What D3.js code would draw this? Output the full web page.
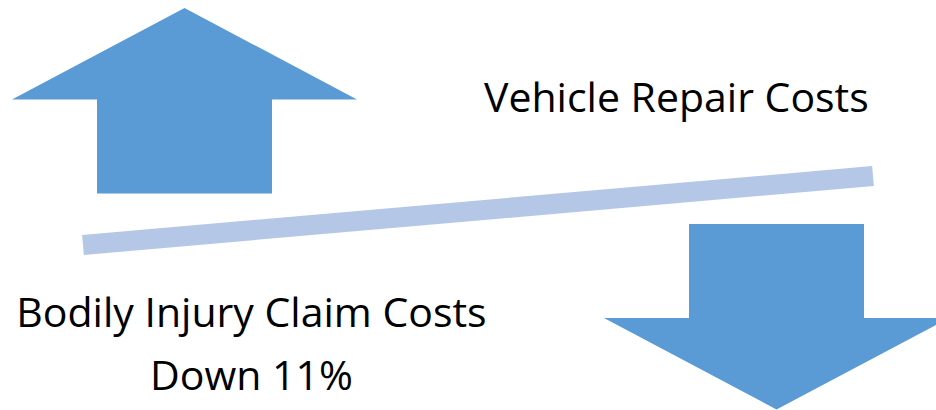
<!DOCTYPE html>
<html lang="en">
<head>
<meta charset="UTF-8">
<title>Claim costs</title>
<script src="https://d3js.org/d3.v7.min.js"></script>
<style>
  body { margin: 0; background: #fff; }
  text { font-family: "Open Sans", "Liberation Sans", sans-serif; fill: #000; }
</style>
</head>
<body>
<script>
// categories and what happened to each
const labels = ["Vehicle Repair Costs", "Bodily Injury Claim Costs"];
const directions = ["up", "down"];
const notes = ["", "Down 11%"];
// seesaw tilt: left end low, right end high
const seesaw = [0, 1];

const width = 936, height = 410;

const svg = d3.select("body").append("svg")
    .attr("width", width)
    .attr("height", height);

// arrow centres on a point scale
const x = d3.scalePoint().domain(directions).range([184.5, 776.5]);
const lineX = d3.scaleLinear().domain([0, 1]).range([83, 873]);
const lineY = d3.scaleLinear().domain([0, 1]).range([245, 176]);

// seesaw bar
svg.append("line")
    .attr("x1", lineX(seesaw[0])).attr("y1", lineY(seesaw[0]))
    .attr("x2", lineX(seesaw[1])).attr("y2", lineY(seesaw[1]))
    .attr("stroke", "#b4c7e7")
    .attr("stroke-width", 20);

// block arrow path, pointing up; flipped for down
const headW = 172.5, shaftW = 87.5, headH = 91.5, shaftH = 94;
function arrow(dir) {
    const p = d3.path();
    p.moveTo(0, 0);
    p.lineTo(headW, headH);
    p.lineTo(shaftW, headH);
    p.lineTo(shaftW, headH + shaftH);
    p.lineTo(-shaftW, headH + shaftH);
    p.lineTo(-shaftW, headH);
    p.lineTo(-headW, headH);
    p.closePath();
    return p.toString();
}

svg.selectAll("path.arrow")
    .data(directions)
    .join("path")
    .attr("class", "arrow")
    .attr("d", arrow)
    .attr("fill", "#5b9bd5")
    .attr("transform", d => d === "up"
        ? `translate(${x(d)},8)`
        : `translate(${x(d)},409.5) scale(1,-1)`);

// labels
const fs = 41;
svg.append("text")
    .attr("x", 484).attr("y", 112)
    .attr("font-size", fs)
    .text(labels[0]);

svg.append("text")
    .attr("x", 251.5).attr("y", 327)
    .attr("text-anchor", "middle")
    .attr("font-size", fs)
    .text(labels[1]);

svg.append("text")
    .attr("x", 251.5).attr("y", 390)
    .attr("text-anchor", "middle")
    .attr("font-size", fs)
    .text(notes[1]);
</script>
</body>
</html>
